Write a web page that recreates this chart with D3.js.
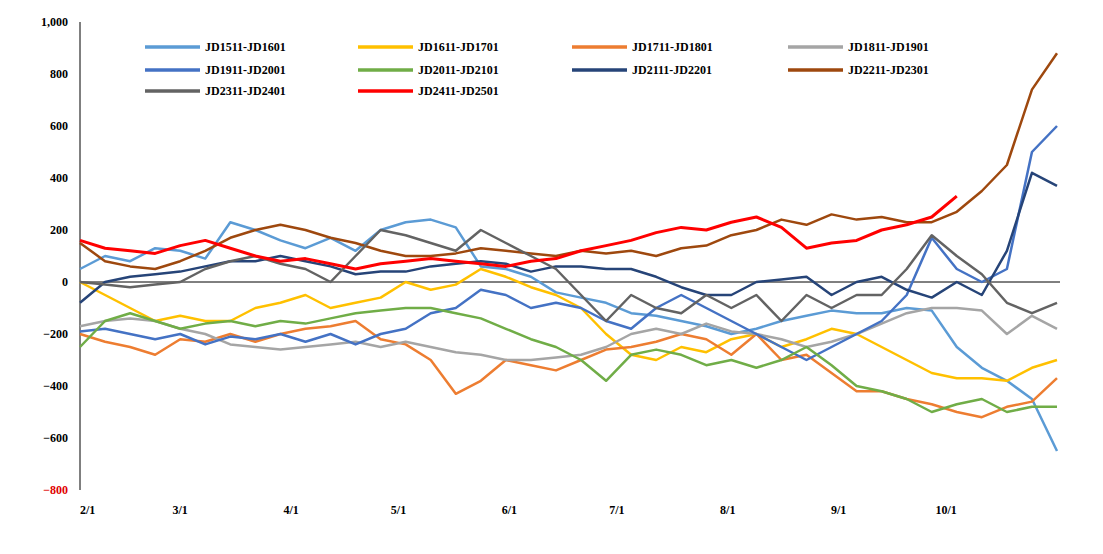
<!DOCTYPE html>
<html><head><meta charset="utf-8">
<script src="https://cdn.jsdelivr.net/npm/d3@7"></script>
<style>body{margin:0;background:#fff}</style>
</head><body><div id="chart"></div>
<script>
const width = 1103, height = 554;
const weekDays = d3.range(40).map(i => i * 7);
const monthLabels = ["2/1","3/1","4/1","5/1","6/1","7/1","8/1","9/1","10/1"];
const monthDays = [0, 28, 59, 89, 120, 150, 181, 212, 242];
const yTicks = d3.range(-800, 1001, 200);

const names = ["JD1511-JD1601","JD1611-JD1701","JD1711-JD1801","JD1811-JD1901","JD1911-JD2001",
  "JD2011-JD2101","JD2111-JD2201","JD2211-JD2301","JD2311-JD2401","JD2411-JD2501"];
const colors = ["#5b9bd5","#ffc000","#ed7d31","#a5a5a5","#4472c4","#70ad47","#264478","#9e480e","#636363","#ff0000"];

const s1511 = [50,100,80,130,120,90,230,200,160,130,170,120,200,230,240,210,60,50,20,-40,-60,-80,-120,-130,-150,-170,-200,-180,-150,-130,-110,-120,-120,-100,-110,-250,-330,-380,-450,-650];
const s1611 = [0,-50,-100,-150,-130,-150,-150,-100,-80,-50,-100,-80,-60,0,-30,-10,50,20,-20,-50,-100,-200,-280,-300,-250,-270,-220,-200,-250,-220,-180,-200,-250,-300,-350,-370,-370,-380,-330,-300];
const s1711 = [-200,-230,-250,-280,-220,-230,-200,-230,-200,-180,-170,-150,-220,-240,-300,-430,-380,-300,-320,-340,-300,-260,-250,-230,-200,-220,-280,-200,-300,-280,-350,-420,-420,-450,-470,-500,-520,-480,-460,-370];
const s1811 = [-170,-150,-140,-150,-180,-200,-240,-250,-260,-250,-240,-230,-250,-230,-250,-270,-280,-300,-300,-290,-280,-250,-200,-180,-200,-160,-190,-200,-220,-250,-230,-200,-160,-120,-100,-100,-110,-200,-130,-180];
const s1911 = [-190,-180,-200,-220,-200,-240,-210,-220,-200,-230,-200,-240,-200,-180,-120,-100,-30,-50,-100,-80,-100,-150,-180,-100,-50,-100,-150,-200,-250,-300,-250,-200,-150,-50,170,50,0,50,500,600];
const s2011 = [-250,-150,-120,-150,-180,-160,-150,-170,-150,-160,-140,-120,-110,-100,-100,-120,-140,-180,-220,-250,-300,-380,-280,-260,-280,-320,-300,-330,-300,-250,-320,-400,-420,-450,-500,-470,-450,-500,-480,-480];
const s2111 = [-80,0,20,30,40,60,80,80,100,80,60,30,40,40,60,70,80,70,40,60,60,50,50,20,-20,-50,-50,0,10,20,-50,0,20,-30,-60,0,-50,120,420,370];
const s2211 = [150,80,60,50,80,120,170,200,220,200,170,150,120,100,100,110,130,120,110,100,120,110,120,100,130,140,180,200,240,220,260,240,250,230,230,270,350,450,740,880];
const s2311 = [0,-10,-20,-10,0,50,80,100,70,50,0,100,200,180,150,120,200,150,100,50,-50,-150,-50,-100,-120,-50,-100,-50,-150,-50,-100,-50,-50,50,180,100,30,-80,-120,-80];
const s2411 = [160,130,120,110,140,160,130,100,80,90,70,50,70,80,90,80,70,60,80,90,120,140,160,190,210,200,230,250,210,130,150,160,200,220,250,330];
const series = [s1511,s1611,s1711,s1811,s1911,s2011,s2111,s2211,s2311,s2411];

const svg = d3.select("#chart").append("svg").attr("width", width).attr("height", height);
const x = d3.scaleLinear().domain([0, 273]).range([80, 1057]);
const y = d3.scaleLinear().domain([-800, 1000]).range([490, 22]);
const font = "'Liberation Serif','Times New Roman',serif";

svg.append("line").attr("x1", 80).attr("x2", 80).attr("y1", y(1000)).attr("y2", y(-800)).attr("stroke", "#000");
svg.append("line").attr("x1", 80).attr("x2", 1060).attr("y1", y(0)).attr("y2", y(0)).attr("stroke", "#000");

svg.selectAll(".yt").data(yTicks).enter().append("text")
  .attr("x", 68).attr("y", d => y(d) + 4).attr("text-anchor", "end")
  .attr("font-family", font).attr("font-weight", "bold").attr("font-size", 12)
  .attr("fill", d => d === -800 ? "#e00000" : "#000")
  .text(d3.format(","));

svg.selectAll(".xt").data(monthDays).enter().append("text")
  .attr("x", d => x(d)).attr("y", 514).attr("text-anchor", (d, i) => i === 0 ? "start" : "middle")
  .attr("font-family", font).attr("font-weight", "bold").attr("font-size", 12)
  .text((d, i) => monthLabels[i]);

const line = d3.line().x((d, i) => x(weekDays[i])).y(d => y(d));
series.forEach((s, i) => {
  svg.append("path").attr("d", line(s)).attr("fill", "none")
    .attr("stroke", colors[i]).attr("stroke-width", i === 9 ? 3 : 2.5).attr("stroke-linejoin", "round");
});

const legX = [145, 358, 572, 788], legY = [47, 70, 91];
names.forEach((n, i) => {
  const lx = legX[i % 4], ly = legY[Math.floor(i / 4)];
  svg.append("line").attr("x1", lx).attr("x2", lx + 55).attr("y1", ly).attr("y2", ly)
    .attr("stroke", colors[i]).attr("stroke-width", 3.5);
  svg.append("text").attr("x", lx + 60).attr("y", ly + 4)
    .attr("font-family", font).attr("font-weight", "bold").attr("font-size", 12).text(n);
});
</script></body></html>
